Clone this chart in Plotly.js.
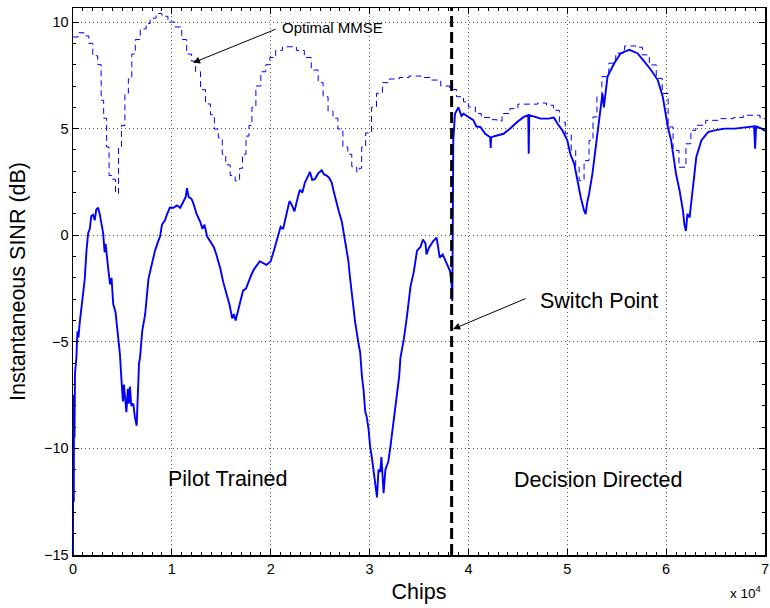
<!DOCTYPE html>
<html>
<head>
<meta charset="utf-8">
<script src="https://cdn.plot.ly/plotly-3.0.1.min.js"></script>
<style>
  html, body { margin: 0; padding: 0; background: #fff; }
  #chart { width: 770px; height: 608px; }
</style>
</head>
<body>
<div id="chart"></div>
<script>
// Chips in units of 10^4
var adaptiveChips = [
  0.000,0.002,0.004,0.006,0.008,0.010,0.015,0.020,0.034,0.045,0.055,0.068,0.090,0.105,0.119,0.135,0.153,0.170,0.185,0.203,
  0.220,0.235,0.254,0.270,0.285,0.305,0.320,0.330,0.356,0.375,0.390,0.407,0.430,0.458,0.475,0.490,0.505,0.515,0.525,0.540,
  0.555,0.565,0.576,0.590,0.610,0.625,0.644,0.655,0.668,0.678,0.700,0.729,0.745,0.763,0.790,0.810,0.830,0.860,0.881,0.900,
  0.930,0.949,0.980,1.017,1.050,1.085,1.120,1.140,1.153,1.170,1.200,1.220,1.250,1.288,1.310,1.330,1.356,1.390,1.424,1.450,
  1.470,1.490,1.520,1.560,1.585,1.610,1.627,1.645,1.670,1.695,1.720,1.750,1.780,1.800,1.830,1.860,1.890,1.920,1.956,1.980,
  2.000,2.040,2.075,2.100,2.125,2.160,2.190,2.210,2.240,2.270,2.295,2.320,2.346,2.370,2.397,2.420,2.447,2.480,2.515,2.540,
  2.566,2.590,2.617,2.640,2.668,2.690,2.720,2.753,2.786,2.800,2.820,2.854,2.888,2.905,2.922,2.940,2.956,2.970,2.990,3.005,
  3.024,3.040,3.058,3.075,3.090,3.108,3.120,3.142,3.160,3.176,3.190,3.210,3.244,3.278,3.300,3.312,3.346,3.380,3.400,3.414,
  3.447,3.480,3.515,3.540,3.566,3.576,3.600,3.644,3.678,3.710,3.740,3.780,3.814,3.830,3.837,3.847,3.864,3.898,3.930,3.950,
  4.000,4.050,4.080,4.120,4.170,4.220,4.225,4.230,4.290,4.356,4.420,4.490,4.560,4.605,4.610,4.615,4.660,4.730,4.810,4.864,
  4.900,4.950,5.000,5.030,5.070,5.100,5.136,5.170,5.186,5.200,5.220,5.254,5.288,5.320,5.340,5.356,5.370,5.407,5.475,5.540,
  5.627,5.710,5.780,5.847,5.915,5.966,6.017,6.050,6.100,6.136,6.170,6.185,6.200,6.215,6.237,6.270,6.305,6.356,6.424,6.490,
  6.590,6.695,6.797,6.890,6.900,6.910,6.966,7.000
];
var adaptiveSINR = [
  -15.0,-8.0,-13.0,-9.0,-12.5,-7.5,-9.5,-6.5,-5.75,-4.5,-4.8,-4.1,-3.2,-2.8,-2.06,-0.8,0.1,0.3,0.9,0.96,
  0.7,1.2,1.29,1.0,0.6,0.1,-0.8,-0.4,-1.56,-2.3,-2.0,-3.24,-3.6,-4.9,-5.6,-6.76,-7.8,-7.0,-7.6,-8.3,
  -7.2,-7.9,-7.1,-8.0,-7.9,-8.5,-8.94,-7.5,-6.0,-5.75,-4.5,-3.74,-2.9,-2.06,-1.5,-1.1,-0.72,-0.3,-0.05,0.5,
  0.7,0.96,1.3,1.29,1.4,1.29,1.6,1.8,2.21,1.8,1.7,1.46,1.0,0.62,0.3,0.5,-0.05,-0.3,-0.55,-0.9,
  -1.2,-1.56,-2.2,-2.9,-3.3,-3.9,-3.7,-4.0,-3.5,-3.07,-2.6,-2.5,-2.1,-1.9,-1.6,-1.4,-1.22,-1.3,-1.39,-1.3,
  -1.22,-0.6,-0.05,0.4,0.29,0.96,1.6,1.46,1.12,1.7,2.13,2.0,2.47,2.7,2.97,2.6,2.63,2.9,3.05,2.85,
  2.8,2.7,2.47,2.0,1.46,1.1,0.62,-0.39,-1.22,-1.9,-2.73,-4.08,-5.08,-5.5,-6.59,-7.3,-8.27,-8.5,-9.1,-9.9,
  -10.45,-11.0,-11.8,-12.3,-11.0,-11.1,-10.4,-12.1,-11.0,-10.8,-10.6,-9.95,-8.78,-7.43,-6.6,-5.75,-4.9,-3.74,-3.0,-2.4,
  -1.73,-0.72,-0.55,-0.2,-0.39,-0.9,-0.6,-0.27,-0.11,-1.05,-0.9,-1.37,-1.68,-2.3,-3.1,4.45,5.7,6.0,5.6,5.7,
  5.55,5.4,5.1,5.08,4.76,4.6,4.1,4.6,4.68,4.76,5.0,5.3,5.55,5.63,3.82,5.63,5.58,5.47,5.47,5.52,
  5.24,4.92,4.45,3.82,3.35,2.56,1.78,1.15,0.99,1.5,1.93,2.88,4.13,5.5,6.18,6.65,6.0,7.44,8.07,8.54,
  8.7,8.54,8.14,7.75,7.28,6.5,5.08,4.45,2.88,2.09,1.15,0.5,0.2,1.0,0.83,2.25,3.66,4.45,4.84,4.92,
  5.0,5.0,5.05,5.11,4.06,5.11,5.0,4.89
];

var mmseChips = [
  0.00,0.05,0.11,0.16,0.20,0.25,0.285,0.31,0.34,0.365,0.395,0.43,0.46,0.49,0.525,0.56,0.595,0.63,0.68,0.74,
  0.78,0.84,0.90,0.96,1.03,1.10,1.15,1.20,1.24,1.29,1.34,1.39,1.43,1.47,1.51,1.545,1.59,1.64,1.685,1.715,
  1.75,1.78,1.81,1.85,1.90,1.95,1.99,2.05,2.12,2.26,2.34,2.41,2.48,2.53,2.58,2.63,2.68,2.73,2.78,2.82,
  2.87,2.895,2.92,2.96,3.02,3.07,3.13,3.20,3.30,3.40,3.52,3.62,3.72,3.81,3.88,3.95,4.00,4.07,4.13,4.22,
  4.29,4.34,4.42,4.50,4.70,4.79,4.86,4.92,4.98,5.04,5.085,5.12,5.17,5.22,5.26,5.30,5.35,5.42,5.49,5.58,
  5.69,5.76,5.83,5.90,5.96,6.02,6.07,6.13,6.20,6.25,6.30,6.40,6.54,6.68,6.78,6.95,7.00
];
var mmseSINR = [
  9.3,9.5,9.35,9.0,8.42,8.0,6.33,5.49,4.14,2.8,2.63,1.96,4.14,5.15,6.66,7.33,8.5,9.18,9.68,9.93,
  10.18,10.4,10.27,10.0,9.77,9.18,8.5,8.17,7.67,6.83,6.16,5.65,4.98,4.56,3.8,3.3,2.8,2.55,3.14,3.8,
  4.65,5.15,6.0,7.0,7.67,8.0,8.34,8.67,8.84,8.67,8.34,7.75,7.16,6.5,5.82,5.49,4.98,4.14,3.8,3.22,
  2.97,3.14,4.14,4.8,6.0,6.66,7.16,7.33,7.4,7.47,7.4,7.28,7.0,6.84,6.5,6.26,6.02,5.71,5.52,5.42,
  5.36,5.71,5.94,6.15,6.2,6.1,5.86,5.31,4.76,3.98,3.19,2.56,3.5,4.45,5.55,6.5,7.44,8.07,8.54,8.88,
  8.82,8.46,7.99,7.36,6.65,5.08,3.98,3.19,4.29,4.92,5.16,5.39,5.47,5.52,5.63,5.47,5.47
];

var switchChips = [3.83, 3.83];
var switchSINR = [-15, 10.66];

var xRange = [0, 7];
var yRange = [-15, 10.66];

var font = "'Liberation Sans', Arial, Helvetica, sans-serif";

var traces = [
  {
    x: mmseChips, y: mmseSINR, type: 'scatter', mode: 'lines',
    line: {color: '#0000ff', width: 1, dash: '6px,4px', shape: 'hv'},
    hoverinfo: 'skip', showlegend: false
  },
  {
    x: adaptiveChips, y: adaptiveSINR, type: 'scatter', mode: 'lines',
    line: {color: '#0000ff', width: 1.9},
    hoverinfo: 'skip', showlegend: false
  },
  {
    x: switchChips, y: switchSINR, type: 'scatter', mode: 'lines',
    line: {color: '#000000', width: 3, dash: '11px,5px'},
    hoverinfo: 'skip', showlegend: false
  }
];

var axisCommon = {
  showline: true, linecolor: '#000', linewidth: 1.5, mirror: 'allticks',
  ticks: 'inside', ticklen: 6, tickwidth: 1, tickcolor: '#000',
  showgrid: true, gridcolor: '#555', gridwidth: 1, griddash: '1px,3px',
  zeroline: false,
  tickfont: {family: font, size: 14.5, color: '#000'},
  fixedrange: true
};

var layout = {
  width: 770, height: 608,
  margin: {l: 73, r: 5, t: 8, b: 53},
  paper_bgcolor: '#fff', plot_bgcolor: '#fff',
  font: {family: font, color: '#000'},
  xaxis: Object.assign({}, axisCommon, {
    range: xRange, tickmode: 'linear', tick0: 0, dtick: 1,
    minor: {tickmode: 'linear', tick0: 0, dtick: 0.1, ticks: 'inside', ticklen: 3, tickcolor: '#000', showgrid: false},
    title: {text: 'Chips', font: {family: font, size: 21.5, color: '#000'}, standoff: 8}
  }),
  yaxis: Object.assign({}, axisCommon, {
    range: yRange, tickmode: 'linear', tick0: -15, dtick: 5,
    minor: {tickmode: 'linear', tick0: -15, dtick: 1, ticks: 'inside', ticklen: 3, tickcolor: '#000', showgrid: false},
    title: {text: 'Instantaneous SINR (dB)', font: {family: font, size: 21.5, color: '#000'}, standoff: 12}
  }),
  annotations: [
    {x: 2.626, y: 9.73, xref: 'x', yref: 'y', text: 'Optimal MMSE', showarrow: false,
     font: {family: font, size: 15, color: '#000'}},
    {x: 1.214, y: 8.09, ax: 2.064, ay: 9.69, axref: 'x', ayref: 'y', xref: 'x', yref: 'y',
     text: '', showarrow: true, arrowhead: 2, arrowsize: 1.4, arrowwidth: 1, arrowcolor: '#000', standoff: 0},
    {x: 5.32, y: -3.08, xref: 'x', yref: 'y', text: 'Switch Point', showarrow: false,
     font: {family: font, size: 21.5, color: '#000'}},
    {x: 3.845, y: -4.4, ax: 4.594, ay: -2.94, axref: 'x', ayref: 'y', xref: 'x', yref: 'y',
     text: '', showarrow: true, arrowhead: 2, arrowsize: 1.4, arrowwidth: 1, arrowcolor: '#000', standoff: 0},
    {x: 1.57, y: -11.44, xref: 'x', yref: 'y', text: 'Pilot Trained', showarrow: false,
     font: {family: font, size: 21.5, color: '#000'}},
    {x: 5.307, y: -11.5, xref: 'x', yref: 'y', text: 'Decision Directed', showarrow: false,
     font: {family: font, size: 21.5, color: '#000'}},
    {x: 0.997, y: -0.068, xref: 'paper', yref: 'paper', xanchor: 'right', yanchor: 'middle',
     text: 'x 10<sup>4</sup>', showarrow: false, font: {family: font, size: 13.5, color: '#000'}}
  ]
};

Plotly.newPlot('chart', traces, layout, {staticPlot: true, displayModeBar: false});
</script>
</body>
</html>
